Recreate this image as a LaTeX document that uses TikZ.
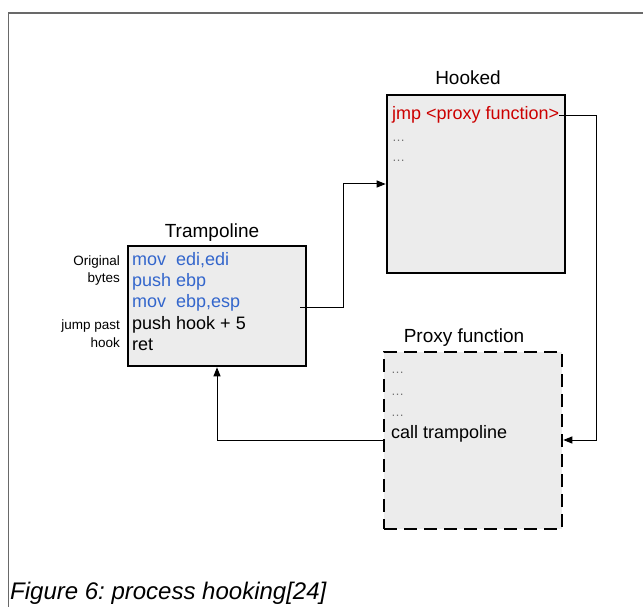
\documentclass[tikz,border=0pt]{standalone}
\usepackage{fontspec}
\setmainfont{Liberation Sans}
\usetikzlibrary{arrows.meta,positioning}
\definecolor{codeblue}{RGB}{51,102,204}
\definecolor{codered}{RGB}{204,0,0}
\definecolor{boxfill}{RGB}{236,236,236}
\definecolor{framegray}{RGB}{105,105,105}
\frenchspacing
\tikzset{blk/.style={draw,line width=2.6pt,fill=boxfill,minimum width=178pt,inner sep=0pt},
  ttl/.style={anchor=base,font=\fontsize{19}{22}\selectfont},
  code/.style={anchor=base west,inner sep=0pt,font=\fontsize{18}{21}\selectfont},
  dots/.style={anchor=base west,inner sep=0pt,text=black!55,font=\fontsize{13}{14}\selectfont},
  note/.style={anchor=base east,inner sep=0pt,font=\fontsize{13.5}{15}\selectfont},
  link/.style={line width=1pt,-{Triangle[length=9pt,width=7pt]}}}

\begin{document}
\begin{tikzpicture}[x=1pt,y=-1pt]
    \useasboundingbox (0,0) rectangle (643,607);
    \draw [framegray,line width=1.5pt] (643,13) -- (8.5,13) -- (8.5,607);

    \node[blk,minimum height=120pt] (tramp) at (217,306) {};
    \node[blk,minimum height=178pt] (hook) at (476,184) {};
    \node[blk,minimum height=177pt,dash pattern=on 13pt off 7pt] (proxy) at (473,440.5) {};

    \node[ttl] (ttramp) at (212,237) {Trampoline};
    \node[ttl] (thook) at (468,85) {Hooked};
    \node[ttl] (tproxy) at (464,342) {Proxy function};

    % trampoline
    \node[code,text=codeblue] (t1) at (132,265) {mov\ \ edi,edi};
    \node[code,text=codeblue] (t2) at (132,286) {push ebp};
    \node[code,text=codeblue] (t3) at (132,307) {mov\ \ ebp,esp};
    \node[code] (t4) at (132,329) {push hook + 5};
    \node[code] (t5) at (132,350) {ret};
    \node[note] (n1) at (120,265) {Original};
    \node[note] (n2) at (120,282) {bytes};
    \node[note] (n3) at (120,329) {jump past};
    \node[note] (n4) at (120,347) {hook};

    % hooked
    \node[code,text=codered] (h1) at (392,120) {jmp <proxy function>};
    \node[dots] (h2) at (392,142) {…};
    \node[dots] (h3) at (392,162) {…};

    % proxy
    \node[dots] (p1) at (391,373) {…};
    \node[dots] (p2) at (391,395) {…};
    \node[dots] (p3) at (391,416) {…};
    \node[code] (p4) at (391,438) {call trampoline};

    \coordinate (a) at (300,307);
    \coordinate (b) at (596,440);
    \draw [link] (a) -- (343,307) |- (hook.west);
    \draw [link] (h1.east) -- (b |- h1.east) -- (b) -- (proxy.east |- b);
    \draw [link] (proxy.west |- b) -| (tramp.south);

    \node[anchor=base west,inner sep=0pt,font=\fontsize{24}{26}\selectfont\itshape] (cap) at (10,599) {Figure 6: process hooking[24]};
\end{tikzpicture}
\end{document}
